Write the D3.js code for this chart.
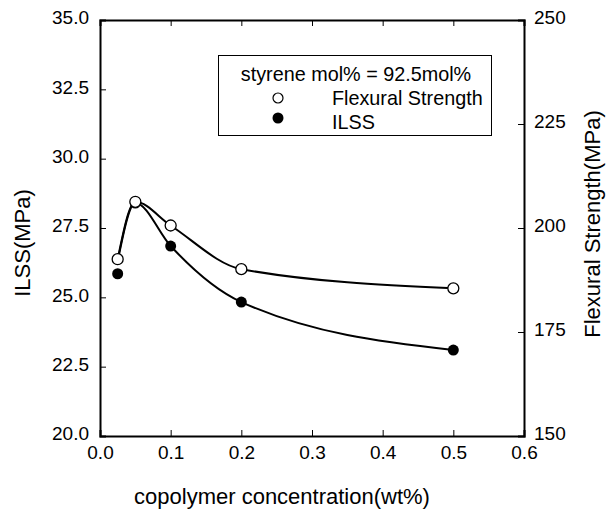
<!DOCTYPE html>
<html><head><meta charset="utf-8">
<script src="https://cdn.jsdelivr.net/npm/d3@7"></script>
<style>
body{margin:0;background:#fff;}
text{font-family:"Liberation Sans",Arial,sans-serif;fill:#000;}
</style></head>
<body><svg id="c" width="606" height="512"></svg>
<script>
const concentration = [0.025, 0.05, 0.1, 0.2, 0.5];
const flexuralStrength = [192.5, 206.3, 200.6, 190.1, 185.5];
const ilss = [25.85, 28.4, 26.85, 24.83, 23.1];
const ilssFitCurve = [26.3, 28.4, 26.85, 24.83, 23.1];
const xTicks = [0, 0.1, 0.2, 0.3, 0.4, 0.5, 0.6];
const yLeftTicks = [20, 22.5, 25, 27.5, 30, 32.5, 35];
const yRightTicks = [150, 175, 200, 225, 250];
const legendTitle = "styrene mol% = 92.5mol%";
const legendLabels = ["Flexural Strength", "ILSS"];

const svg = d3.select("#c");
const L = 100, R = 524, T = 20, B = 436;
const x = d3.scaleLinear().domain([0, 0.6]).range([L, R]);
const yL = d3.scaleLinear().domain([20, 35]).range([B, T]);
const yR = d3.scaleLinear().domain([150, 250]).range([B, T]);

// axes
const fmt1 = d3.format(".1f");
const gB = svg.append("g").attr("transform", `translate(0,${B})`)
  .call(d3.axisBottom(x).tickValues(xTicks).tickFormat(fmt1).tickSize(-6).tickPadding(10));
const gT = svg.append("g").attr("transform", `translate(0,${T})`)
  .call(d3.axisTop(x).tickValues(xTicks).tickFormat("").tickSize(-6));
const gL = svg.append("g").attr("transform", `translate(${L},0)`)
  .call(d3.axisLeft(yL).tickValues(yLeftTicks).tickFormat(fmt1).tickSize(-6).tickPadding(11));
const gR = svg.append("g").attr("transform", `translate(${R},0)`)
  .call(d3.axisRight(yR).tickValues(yRightTicks).tickFormat(d3.format("d")).tickSize(-6).tickPadding(10));
[gB, gT, gL, gR].forEach(g => {
  g.select(".domain").attr("stroke", "#000").attr("stroke-width", 2);
  g.selectAll(".tick line").attr("stroke", "#000").attr("stroke-width", 1);
  g.selectAll(".tick text").attr("font-size", 19).attr("font-family", "Liberation Sans, Arial, sans-serif").attr("fill", "#000");
});
gL.selectAll(".tick text").attr("dy", "0.2em");
gR.selectAll(".tick text").attr("dy", "0.2em");

// titles
svg.append("text").attr("x", 282).attr("y", 504).attr("text-anchor", "middle")
  .attr("font-size", 22).text("copolymer concentration(wt%)");
svg.append("text").attr("transform", `translate(30,243) rotate(-90)`)
  .attr("text-anchor", "middle").attr("font-size", 22).text("ILSS(MPa)");
svg.append("text").attr("transform", `translate(600,224) rotate(-90)`)
  .attr("text-anchor", "middle").attr("font-size", 22).text("Flexural Strength(MPa)");

// curves
const flexPts = concentration.map((c, i) => [x(c), yR(flexuralStrength[i])]);
const ilssFitPts = concentration.map((c, i) => [x(c), yL(ilssFitCurve[i])]);
const line = d3.line().curve(d3.curveMonotoneX);
svg.append("path").attr("d", line(flexPts)).attr("fill", "none").attr("stroke", "#000").attr("stroke-width", 2);
svg.append("path").attr("d", line(ilssFitPts)).attr("fill", "none").attr("stroke", "#000").attr("stroke-width", 2);

// markers
svg.append("g").selectAll("circle").data(concentration).join("circle")
  .attr("cx", d => x(d)).attr("cy", (d, i) => yL(ilss[i])).attr("r", 5.5).attr("fill", "#000");
svg.append("g").selectAll("circle").data(concentration).join("circle")
  .attr("cx", d => x(d)).attr("cy", (d, i) => yR(flexuralStrength[i])).attr("r", 5.5)
  .attr("fill", "#fff").attr("stroke", "#000").attr("stroke-width", 1.3);

// legend
const lg = svg.append("g");
lg.append("rect").attr("x", 218.5).attr("y", 55.5).attr("width", 273).attr("height", 80)
  .attr("fill", "#fff").attr("stroke", "#000").attr("stroke-width", 1);
lg.append("text").attr("x", 356).attr("y", 81).attr("text-anchor", "middle").attr("font-size", 19.8).text(legendTitle);
lg.append("circle").attr("cx", 278).attr("cy", 98).attr("r", 5).attr("fill", "#fff").attr("stroke", "#000").attr("stroke-width", 1.2);
lg.append("text").attr("x", 332).attr("y", 105).attr("font-size", 19.8).text(legendLabels[0]);
lg.append("circle").attr("cx", 278).attr("cy", 118).attr("r", 5.5).attr("fill", "#000");
lg.append("text").attr("x", 332).attr("y", 129).attr("font-size", 19.8).text(legendLabels[1]);
</script></body></html>
